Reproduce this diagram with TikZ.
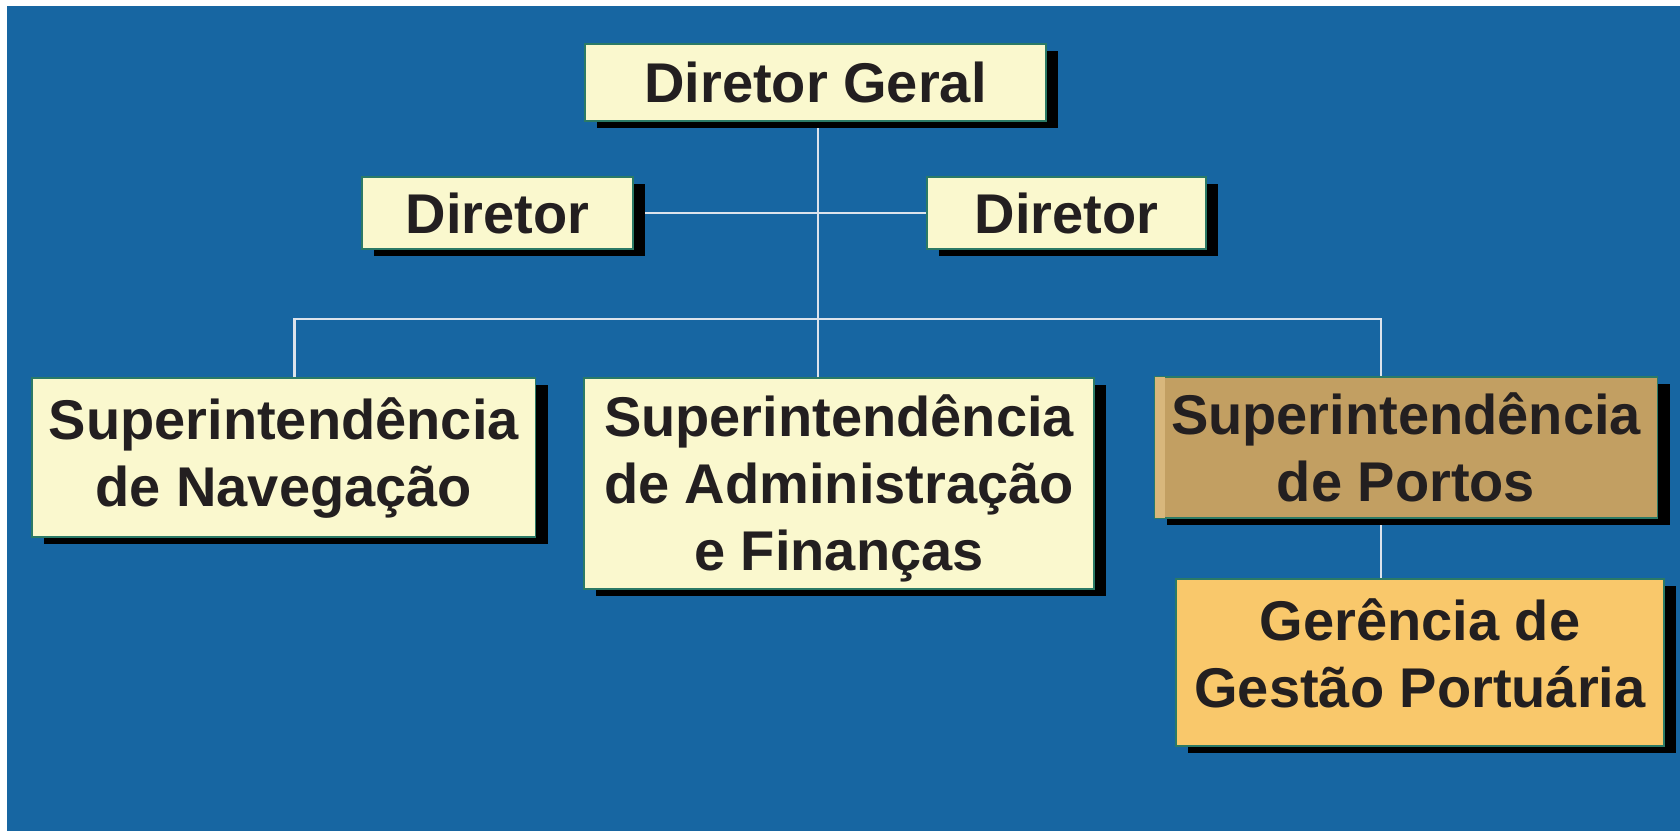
\documentclass[tikz,border=0pt]{standalone}
\usepackage{fontspec}
\setmainfont{Liberation Sans}
\usepackage{xcolor}
\usepackage{tikz}
\usetikzlibrary{shadows,backgrounds}
\definecolor{bgblue}{HTML}{1766A2}
\definecolor{cream}{HTML}{FAF8CE}
\definecolor{portbrown}{HTML}{C29F62}
\definecolor{portlight}{HTML}{D8B77C}
\definecolor{amber}{HTML}{F9C86B}
\definecolor{edge}{HTML}{2B7A66}
\definecolor{ink}{HTML}{231F20}
\definecolor{wire}{HTML}{DCE3EC}
\tikzset{
  box/.style={draw=edge, line width=0.7pt, fill=cream, text=ink, inner sep=0pt,
    align=center, font=\fontsize{28pt}{33.5pt}\selectfont\bfseries, text depth=0pt,
    drop shadow={shadow xshift=6pt, shadow yshift=-3.5pt, fill=black, opacity=1}},
  oneline/.style={text height=20pt},
  twolines/.style={text height=53.5pt},
  threelines/.style={text height=87pt},
  link/.style={draw=wire, line width=1.1pt}
}

\begin{document}
\begin{tikzpicture}[x=0.5pt, y=-0.5pt]
  \useasboundingbox (0,0) rectangle (1680,831);

  % top of the chart
  \node[box, oneline, minimum width=230.5pt, minimum height=38.5pt] (geral) at (815.5,82.5) {Diretor Geral};
  \node[box, oneline, minimum width=135.5pt, minimum height=36pt] (dirl) at (497.5,213) {Diretor};
  \node[box, oneline, minimum width=139.5pt, minimum height=36pt] (dirr) at (1066.5,213) {Diretor};

  % superintendencias
  \node[box, twolines, text depth=5pt, minimum width=251.75pt, minimum height=79.5pt] (nav) at (283.75,457.5)
    {Superintendência\\de Navegação};
  \node[box, threelines, minimum width=255pt, minimum height=105.5pt] (adm) at (839,483.5)
    {Superintendência\\de Administração\\e Finanças};
  \node[box, twolines, fill=portbrown, minimum width=251.5pt, minimum height=70.5pt] (portos) at (1406,447.5)
    {Superintendência\\de Portos};
  \fill[portlight] ([xshift=0.5pt,yshift=-0.5pt]portos.north west) rectangle ([xshift=5.5pt,yshift=0.5pt]portos.south west);
  \node[box, twolines, text depth=9pt, fill=amber, minimum width=244pt, minimum height=83.5pt] (gestao) at (1420,662.5)
    {Gerência de\\Gestão Portuária};

  \begin{scope}[on background layer]
    \fill[bgblue] (7,6) rectangle (1680,831);
    \coordinate (trunk) at (818,319);
    \coordinate (busl) at (294.5,319);
    \coordinate (busr) at (1381,319);
    \draw[link] (geral.south -| trunk) -- (adm.north -| trunk);
    \draw[link] (dirl.east) -- (dirr.west);
    \draw[link] (nav.north -| busl) -- (busl) -- (busr) -- (portos.north -| busr);
    \draw[link] (portos.south -| busr) -- (gestao.north -| busr);
  \end{scope}
\end{tikzpicture}
\end{document}
